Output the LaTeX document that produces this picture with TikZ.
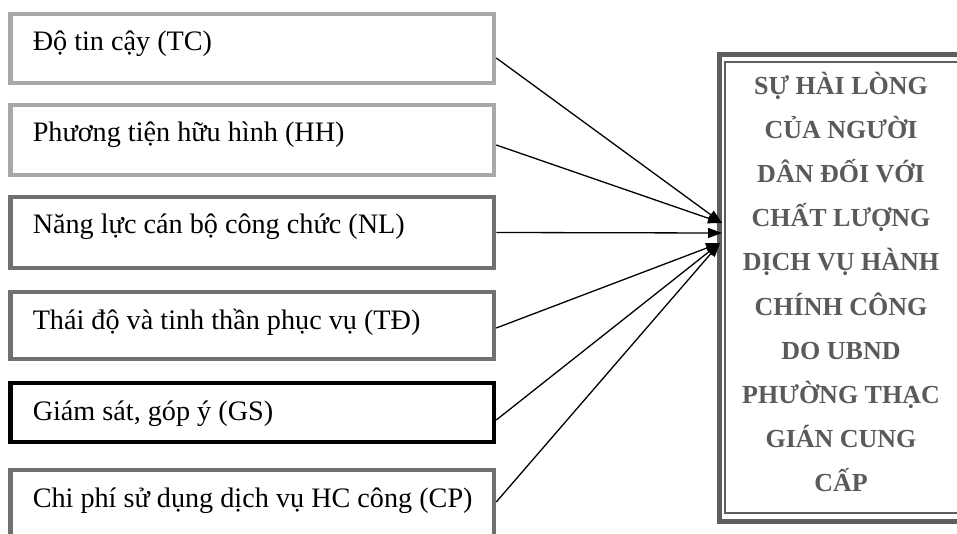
\documentclass[tikz,border=0pt]{standalone}
\usepackage{fontspec}
\setmainfont{Liberation Serif}
\usetikzlibrary{arrows.meta,calc}
\definecolor{lightgr}{HTML}{A8A8A8}
\definecolor{midgr}{HTML}{707070}
\definecolor{framegr}{HTML}{5E5E5E}
\definecolor{txtgr}{HTML}{5A5A5A}
\newcommand\lefttxt[1]{\makebox[439pt][l]{#1}}
\begin{document}
\begin{tikzpicture}[x=1pt,y=-1pt,
 factor/.style={draw, rectangle, line width=4.5pt, minimum width=483.5pt, inner xsep=22pt, inner ysep=0pt, font=\fontsize{28.2}{32}\selectfont, text height=37pt},
 link/.style={line width=1.3pt, -{Triangle[length=14pt,width=10pt]}}]
\useasboundingbox[fill=white] (0,0) rectangle (957,534);
\node[factor, draw=lightgr, text depth=32pt] (tc) at (252.25,48.5) {\lefttxt{Độ tin cậy (TC)}};
\node[factor, draw=lightgr, text depth=33pt] (hh) at (252.25,140) {\lefttxt{Phương tiện hữu hình (HH)}};
\node[factor, draw=midgr, text depth=34pt] (nl) at (252.25,232.5) {\lefttxt{Năng lực cán bộ công chức (NL)}};
\node[factor, draw=midgr, text depth=30pt] (td) at (252.25,325.5) {\lefttxt{Thái độ và tinh thần phục vụ (TĐ)}};
\node[factor, draw=black, text depth=22pt] (gs) at (252.25,412.5) {\lefttxt{Giám sát, góp ý (GS)}};
\node[factor, draw=midgr, text depth=38pt] (cp) at (252.25,507.5) {\lefttxt{Chi phí sử dụng dịch vụ HC công (CP)}};
\node[draw=framegr, line width=5pt, inner sep=0pt, minimum width=255.5pt, minimum height=466.5pt] (sat) at (847.25,287.75) {};
\node[draw=framegr, line width=1.5pt, inner sep=0pt, minimum width=244pt, minimum height=451pt] (satin) at (847,287.5) {};
\node[align=center, text=txtgr, font=\bfseries\fontsize{26}{44.1}\selectfont] (sattxt) at (841,282) {SỰ HÀI LÒNG\\CỦA NGƯỜI\\DÂN ĐỐI VỚI\\CHẤT LƯỢNG\\DỊCH VỤ HÀNH\\CHÍNH CÔNG\\DO UBND\\PHƯỜNG THẠC\\GIÁN CUNG\\CẤP};
\coordinate (ta) at (722,223);
\coordinate (tb) at (722,233);
\coordinate (tl) at (720,243);
\draw[link] ([yshift=-9.5pt]tc.east) -- (ta);
\draw[link] ([yshift=-5pt]hh.east) -- (ta);
\draw[link] (nl.east) -- (tb);
\draw[link] ([yshift=-2.5pt]td.east) -- (tl);
\draw[link] ([yshift=-7.5pt]gs.east) -- (tl);
\draw[link] ([yshift=5.5pt]cp.east) -- (tl);
\end{tikzpicture}
\end{document}
